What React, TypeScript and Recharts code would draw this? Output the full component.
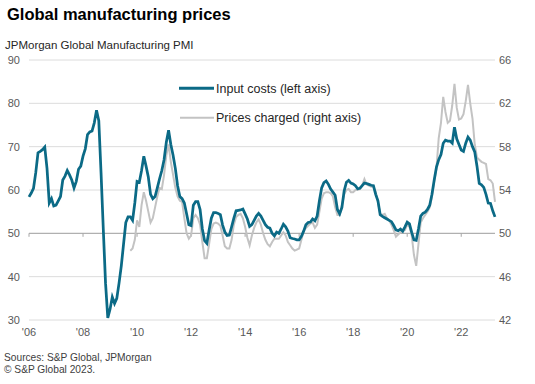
import { LineChart, Line, XAxis, YAxis, CartesianGrid, ReferenceLine } from "recharts";

// monthly, Jan 2006 .. Apr 2023 (left axis)
const inputCosts = [
  58.4, 59.3, 60.4, 64.0, 68.6, 68.9, 69.3, 69.9, 65.0, 57.0, 58.0, 56.3,
  56.5, 57.5, 58.5, 62.3, 63.2, 64.5, 63.5, 62.3, 60.5, 62.0, 64.8, 65.5,
  67.8, 69.5, 72.8, 73.4, 73.6, 75.5, 78.4, 76.0, 64.0, 51.0, 38.5, 30.5,
  32.5, 35.3, 33.8, 35.0, 38.5, 42.5, 47.5, 52.5, 53.8, 53.8, 53.0, 57.0,
  62.0, 61.8, 64.5, 67.8, 65.5, 63.0, 59.0, 58.0, 58.5, 60.5, 62.6, 64.5,
  67.0, 71.0, 73.8, 70.5, 68.0, 65.0, 61.0, 58.5, 58.0, 57.0, 54.5, 52.0,
  51.8, 56.5, 57.3, 57.3, 55.5, 51.0, 48.3, 47.7, 50.7, 53.5, 54.8, 54.8,
  54.6, 54.3, 51.9, 50.3, 49.5, 49.6, 51.5, 53.5, 55.2, 55.3, 55.4, 55.6,
  54.5, 53.3, 51.6, 52.0, 53.0, 54.0, 54.6, 54.0, 53.0, 52.0, 51.4, 51.2,
  50.0, 49.4, 50.3, 50.0, 51.0, 52.1, 51.5, 50.5, 49.0, 48.8, 48.7, 48.5,
  48.5, 49.3, 50.5, 52.0, 52.5, 52.6, 53.3, 52.9, 54.0, 57.5, 60.5, 61.7,
  62.1, 61.3, 60.2, 59.5, 58.8, 55.5, 54.5, 56.0, 59.8, 61.8, 62.2, 61.6,
  61.4, 61.0, 60.3, 60.4, 61.0, 61.6, 61.5, 61.3, 61.1, 61.0, 59.0, 57.5,
  54.3, 53.9, 53.6, 53.3, 53.0, 52.7, 51.8, 50.8, 50.6, 51.0, 50.5, 51.5,
  52.6, 52.2, 50.2, 48.5, 48.4, 51.0, 54.0, 54.6, 54.9, 55.5, 56.5, 59.0,
  62.3, 65.3, 67.0, 68.2, 70.8, 71.5, 71.3, 71.3, 70.8, 74.5, 71.8, 70.5,
  69.2, 68.9, 70.8, 72.2, 71.5, 70.0, 68.8, 65.5, 61.5, 61.2, 60.6, 59.0,
  57.0, 56.9, 55.2, 53.8,
];

// monthly, Oct 2009 .. Apr 2023 (right axis)
const pricesStart = 45;
const pricesCharged = [
  48.4, 48.6, 49.4,
  51.2, 50.6, 52.6, 53.8, 53.0, 52.0, 51.0, 51.4, 52.4, 53.4, 54.2, 54.1,
  55.4, 57.2, 58.2, 56.6, 55.4, 54.2, 53.4, 53.0, 52.9, 51.4, 50.0, 49.5,
  49.8, 51.4, 51.7, 51.4, 50.8, 49.2, 47.7, 47.7, 49.0, 50.4, 50.9, 51.0,
  50.9, 50.7, 49.8, 48.8, 48.6, 48.6, 49.4, 50.8, 51.5, 51.7, 51.8, 51.4,
  50.6, 49.6, 48.9, 49.8, 50.5, 51.0, 51.3, 50.8, 50.0, 49.4, 49.0, 48.8,
  49.2, 49.5, 49.5, 49.5, 49.8, 50.1, 49.8, 49.2, 48.9, 48.6, 48.4, 48.5,
  48.6, 49.4, 50.2, 50.5, 50.7, 50.9, 51.0, 50.5, 50.8, 52.0, 53.2, 53.7,
  53.8, 53.8, 53.7, 53.4, 52.4, 51.7, 51.7, 52.6, 53.6, 54.0, 54.1, 53.8,
  53.8, 54.0, 54.0, 54.1, 54.4, 55.0, 54.5, 54.4, 54.3, 54.3, 53.8, 52.9,
  51.8, 51.7, 51.8, 51.4, 51.2, 50.8, 50.3, 49.7, 49.9, 50.1, 50.2, 50.3,
  50.8, 50.6, 49.8, 48.0, 47.0, 49.0, 51.0, 51.4, 51.7, 52.0, 52.4, 53.4,
  54.8, 56.0, 58.8, 60.2, 62.6, 61.2, 60.2, 60.4, 61.8, 63.8, 61.6, 60.5,
  60.6, 61.0, 62.2, 63.7, 62.0, 60.6, 58.2, 57.0, 56.8, 56.6, 56.5, 56.4,
  55.0, 54.9, 54.6, 52.9,
];

const yearTicks = [0, 24, 48, 72, 96, 120, 144, 168, 192];
const yearLabels = ["'06", "'08", "'10", "'12", "'14", "'16", "'18", "'20", "'22"];
const leftTicks = [30, 40, 50, 60, 70, 80, 90];
const rightTicks = [42, 46, 50, 54, 58, 62, 66];

const data = inputCosts.map((v, i) => ({
  i,
  input: v,
  prices: i >= pricesStart ? pricesCharged[i - pricesStart] : null,
}));

const BLUE = "#0b6a86";
const GREY = "#c3c3c3";
const FONT = "'Liberation Sans', Arial, sans-serif";
const tickStyle = { fill: "#595959", fontSize: 11, fontFamily: FONT };

export default function App() {
  return (
    <div style={{ position: "absolute", left: 0, top: 0, width: 535, height: 384, background: "#fff", fontFamily: FONT }}>
      <LineChart width={535} height={384} data={data} margin={{ top: 60, right: 0, bottom: 44, left: 0 }}>
        <CartesianGrid yAxisId="left" vertical={false} stroke="#dcdcdc" />
        <XAxis
          dataKey="i"
          type="number"
          domain={[0, 207]}
          ticks={yearTicks}
          tickFormatter={(v: number) => yearLabels[yearTicks.indexOf(v)]}
          axisLine={false}
          tickLine={false}
          tick={tickStyle}
          height={20}
        />
        <YAxis yAxisId="left" domain={[30, 90]} ticks={leftTicks} width={29} axisLine={false} tickLine={false} tickMargin={3} tick={tickStyle} />
        <YAxis yAxisId="right" orientation="right" domain={[42, 66]} ticks={rightTicks} width={40} axisLine={false} tickLine={false} tickSize={2} tickMargin={2} tick={{ ...tickStyle, textAnchor: "start" }} />
        <ReferenceLine yAxisId="left" y={50} stroke="#a6a6a6" strokeWidth={1} />
        {yearTicks.map((t) => (
          <ReferenceLine key={t} yAxisId="left" segment={[{ x: t, y: 50 }, { x: t, y: 49.2 }]} stroke="#a6a6a6" strokeWidth={1} />
        ))}
        <Line yAxisId="right" type="linear" dataKey="prices" stroke={GREY} strokeWidth={2} dot={false} isAnimationActive={false} connectNulls={false} />
        <Line yAxisId="left" type="linear" dataKey="input" stroke={BLUE} strokeWidth={2.75} dot={false} isAnimationActive={false} />
      </LineChart>
      <svg width={535} height={384} style={{ position: "absolute", left: 0, top: 0, pointerEvents: "none" }}>
        <text x={7} y={19.5} fontSize={16.5} fontWeight="bold" fill="#000" fontFamily={FONT}>Global manufacturing prices</text>
        <text x={5} y={49} fontSize={11.5} fill="#262626" fontFamily={FONT}>JPMorgan  Global Manufacturing PMI</text>
        <line x1={179} x2={214} y1={88.3} y2={88.3} stroke={BLUE} strokeWidth={3} />
        <text x={216} y={92.8} fontSize={12.5} fill="#262626" fontFamily={FONT}>Input costs (left axis)</text>
        <line x1={180} x2={214} y1={117.7} y2={117.7} stroke={GREY} strokeWidth={2} />
        <text x={216} y={122.2} fontSize={12.5} fill="#262626" fontFamily={FONT}>Prices charged (right axis)</text>
        <text x={4} y={360.5} fontSize={10.2} fill="#404040" fontFamily={FONT}>Sources: S&amp;P Global, JPMorgan</text>
        <text x={4} y={373} fontSize={10.2} fill="#404040" fontFamily={FONT}>© S&amp;P Global 2023.</text>
      </svg>
    </div>
  );
}
